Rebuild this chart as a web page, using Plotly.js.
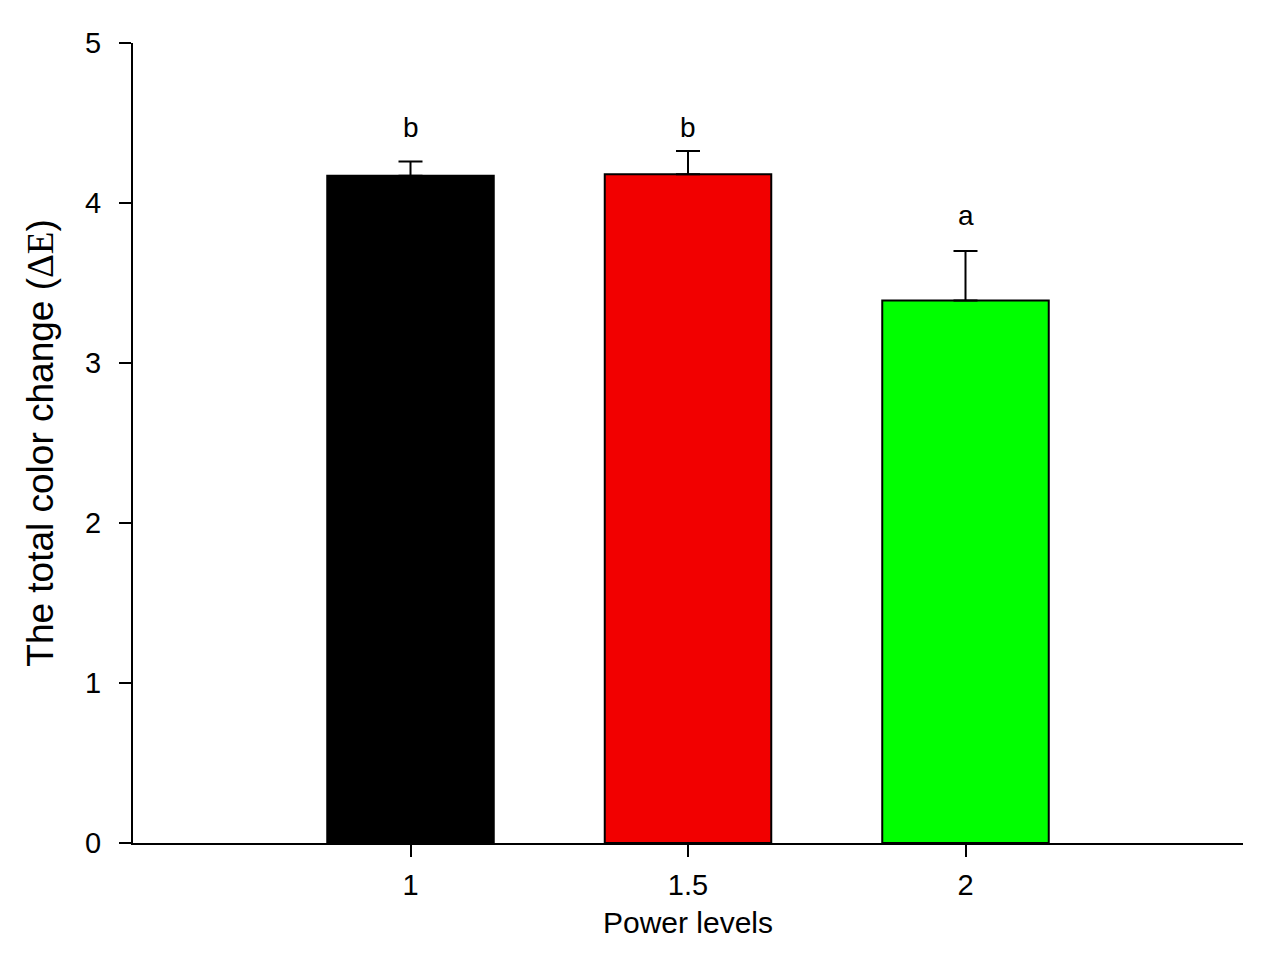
<!DOCTYPE html>
<html>
<head>
<meta charset="utf-8">
<script src="https://cdn.plot.ly/plotly-3.0.1.min.js"></script>
<style>html,body{margin:0;padding:0;background:#fff;}#chart{width:1266px;height:962px;}</style>
</head>
<body>
<div id="chart"></div>
<script>
var categories = ["1", "1.5", "2"];
var meanValues = [4.17, 4.18, 3.39];
var errorPlus = [0.09, 0.145, 0.31];
var groupLetters = ["b", "b", "a"];
var letterLevels = [4.47, 4.47, 3.92];
var barColors = ["#000000", "#f20000", "#00ff00"];

var trace = {
  type: "bar",
  x: categories,
  y: meanValues,
  width: 0.6,
  marker: {color: barColors, line: {color: "#000000", width: 2}},
  error_y: {type: "data", symmetric: false, array: errorPlus, arrayminus: [0, 0, 0],
            color: "#000000", thickness: 2, width: 12},
  hoverinfo: "x+y"
};

var annotations = categories.map(function (c, i) {
  return {
    x: i, y: letterLevels[i], xref: "x", yref: "y",
    text: groupLetters[i], showarrow: false, yanchor: "middle",
    font: {family: "Liberation Sans, Arial, sans-serif", size: 28, color: "#000"}
  };
});

var layout = {
  width: 1266, height: 962,
  margin: {l: 133, r: 23, t: 43, b: 119},
  paper_bgcolor: "#fff", plot_bgcolor: "#fff",
  font: {family: "Liberation Sans, Arial, sans-serif", size: 29, color: "#000"},
  showlegend: false,
  bargap: 0,
  xaxis: {
    type: "category", range: [-1, 3],
    showline: true, linecolor: "#000", linewidth: 2,
    ticks: "outside", ticklen: 12, tickwidth: 2, tickcolor: "#000",
    showgrid: false, zeroline: false,
    ticklabelstandoff: 3,
    tickfont: {size: 29},
    title: {text: "Power levels", font: {size: 30}, standoff: 12}
  },
  yaxis: {
    range: [0, 5], dtick: 1, tick0: 0,
    showline: true, linecolor: "#000", linewidth: 2,
    ticks: "outside", ticklen: 12, tickwidth: 2, tickcolor: "#000",
    showgrid: false, zeroline: false,
    ticklabelstandoff: 12,
    tickfont: {size: 29},
    title: {text: "The total color change (<span style=\"font-family:'Liberation Serif'\">ΔE</span>)", font: {size: 37}, standoff: 20}
  },
  annotations: annotations
};

Plotly.newPlot("chart", [trace], layout, {displayModeBar: false, staticPlot: true});
</script>
</body>
</html>
